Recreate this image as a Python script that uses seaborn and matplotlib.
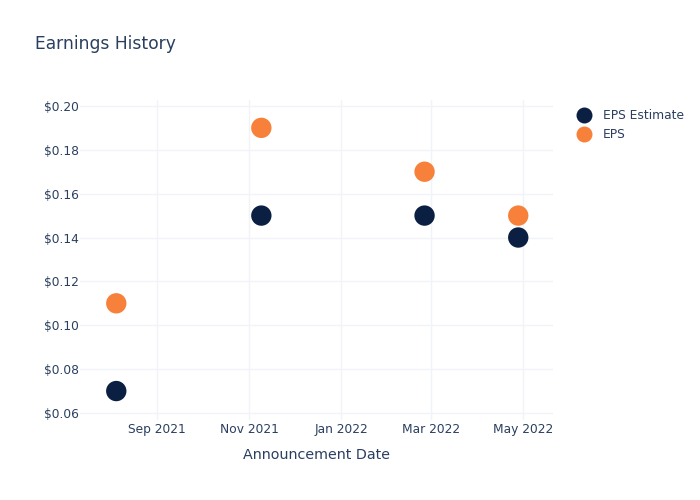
import matplotlib
matplotlib.use("Agg")
import matplotlib.pyplot as plt
import matplotlib.dates as mdates
from matplotlib.ticker import FuncFormatter
import seaborn as sns
import pandas as pd

dates = ["2021-08-05", "2021-11-09", "2022-02-25", "2022-04-28"]
eps_estimate = [0.07, 0.15, 0.15, 0.14]
eps_actual = [0.11, 0.19, 0.17, 0.15]
series_names = ["EPS Estimate", "EPS"]
colors = ["#0b1f42", "#f7813a"]

df = pd.DataFrame({
    "date": pd.to_datetime(dates * 2),
    "value": eps_estimate + eps_actual,
    "series": [series_names[0]] * len(dates) + [series_names[1]] * len(dates),
})

sns.set_style("white")
plt.rcParams["font.family"] = ["DejaVu Sans"]
text_color = "#2a3f5f"

fig = plt.figure(figsize=(7, 5), dpi=100)
ax = fig.add_axes([80 / 700, 80 / 500, 473 / 700, 320 / 500])

sns.scatterplot(data=df, x="date", y="value", hue="series",
                palette=dict(zip(series_names, colors)), s=215,
                edgecolor="none", ax=ax, legend=False, zorder=3)

ax.set_xlim(pd.Timestamp("2021-07-12"), pd.Timestamp("2022-05-21"))
ax.set_ylim(0.0568, 0.2027)
ax.set_yticks([0.06, 0.08, 0.10, 0.12, 0.14, 0.16, 0.18, 0.20])
ax.yaxis.set_major_formatter(FuncFormatter(lambda v, p: f"${v:.2f}"))
ax.xaxis.set_major_locator(mdates.MonthLocator(bymonth=[1, 3, 5, 7, 9, 11]))
ax.xaxis.set_major_formatter(mdates.DateFormatter("%b %Y"))

ax.grid(True, color="#f0f3f9", linewidth=1, zorder=0)
for s in ax.spines.values():
    s.set_visible(False)
ax.tick_params(axis="both", length=0, labelsize=8.8, colors=text_color)
ax.tick_params(axis="y", pad=1)
ax.tick_params(axis="x", pad=2)
ax.set_xlabel("Announcement Date", fontsize=10.3, color=text_color, labelpad=9)
ax.set_ylabel("")

fig.text(35 / 700, 1 - 44 / 500, "Earnings History", fontsize=12.3, color=text_color,
         va="center", ha="left")

# legend
handles = [plt.Line2D([], [], marker="o", linestyle="", markersize=11.5,
                      markerfacecolor=c, markeredgecolor="none") for c in colors]
leg = fig.legend(handles, series_names, loc="upper left",
                 bbox_to_anchor=(572 / 700, 1 - 104 / 500), frameon=False,
                 fontsize=8.8, labelcolor=text_color, handletextpad=0.9,
                 labelspacing=0.5, borderaxespad=0, handlelength=1.2)

fig.savefig("out.png", dpi=100)
